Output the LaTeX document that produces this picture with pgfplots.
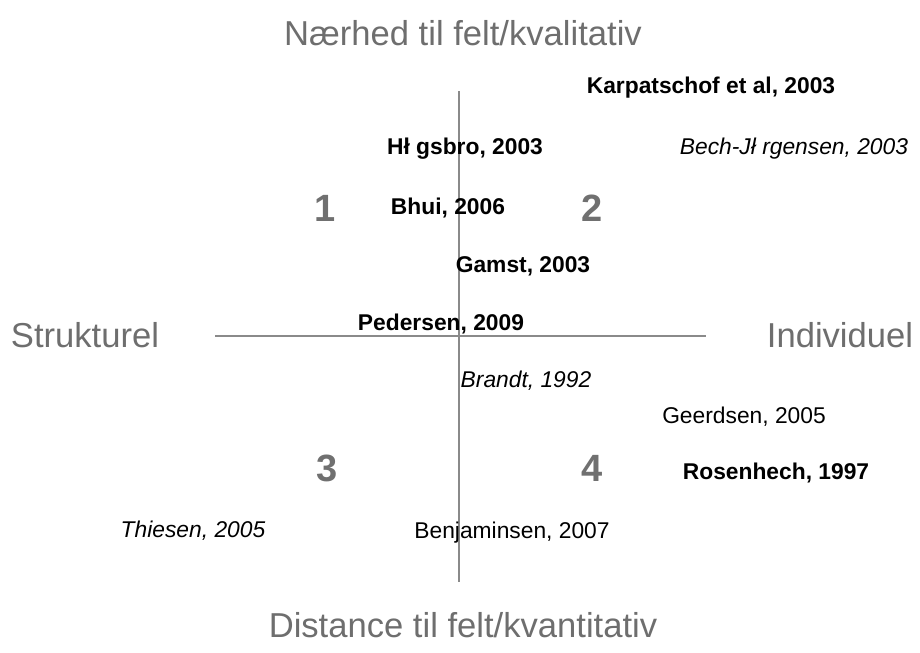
\documentclass[border=0pt]{standalone}
\usepackage{fontspec}
\setmainfont{Liberation Sans}
\usepackage{pgfplots}
\pgfplotsset{compat=1.18}
\definecolor{titlegray}{HTML}{6E6E6E}
\definecolor{numgray}{HTML}{707070}
\definecolor{linegray}{HTML}{8A8A8A}
\begin{document}
\begin{tikzpicture}
\begin{axis}[
  scale only axis, width=460pt, height=326pt,
  xmin=0, xmax=920, ymin=0, ymax=652, y dir=reverse,
  hide axis, clip=false,
  every node near coord/.append style={anchor=center, inner sep=0pt},
]
% axes lines
\addplot[linegray, line width=0.75pt] coordinates {(215,336) (706,336)};
\addplot[linegray, line width=0.75pt] coordinates {(459,91) (459,582)};
% bold labels
\addplot[only marks, mark=none, point meta=explicit symbolic, nodes near coords,
  every node near coord/.append style={font=\fontsize{11.4}{13}\selectfont\bfseries, text=black}]
  table[meta=label] {
x y label
711 88 {Karpatschof et al, 2003}
465 149 {Hł gsbro, 2003}
448 208 {Bhui, 2006}
523 266 {Gamst, 2003}
441 324 {Pedersen, 2009}
776 473 {Rosenhech, 1997}
};
% italic labels
\addplot[only marks, mark=none, point meta=explicit symbolic, nodes near coords,
  every node near coord/.append style={font=\fontsize{11.4}{13}\selectfont\itshape, text=black}]
  table[meta=label] {
x y label
794 149 {Bech-Jł rgensen, 2003}
526 381 {Brandt, 1992}
193 531 {Thiesen, 2005}
};
% regular labels
\addplot[only marks, mark=none, point meta=explicit symbolic, nodes near coords,
  every node near coord/.append style={font=\fontsize{11.4}{13}\selectfont, text=black}]
  table[meta=label] {
x y label
744 417 {Geerdsen, 2005}
512 533 {Benjaminsen, 2007}
};
% quadrant numbers
\addplot[only marks, mark=none, point meta=explicit symbolic, nodes near coords,
  every node near coord/.append style={font=\fontsize{19}{22}\selectfont\bfseries, text=numgray}]
  table[meta=label] {
x y label
325 208 1
592 208 2
327 468 3
592 468 4
};
% axis titles
\addplot[only marks, mark=none, point meta=explicit symbolic, nodes near coords,
  every node near coord/.append style={font=\fontsize{17.3}{20}\selectfont, text=titlegray}]
  table[meta=label] {
x y label
463 33 {Nærhed til felt/kvalitativ}
463 625 {Distance til felt/kvantitativ}
85 335 {Strukturel}
840 335 {Individuel}
};
\end{axis}
\pgfresetboundingbox
\path[use as bounding box] (current axis.south west) rectangle (current axis.north east);
\end{tikzpicture}
\end{document}
